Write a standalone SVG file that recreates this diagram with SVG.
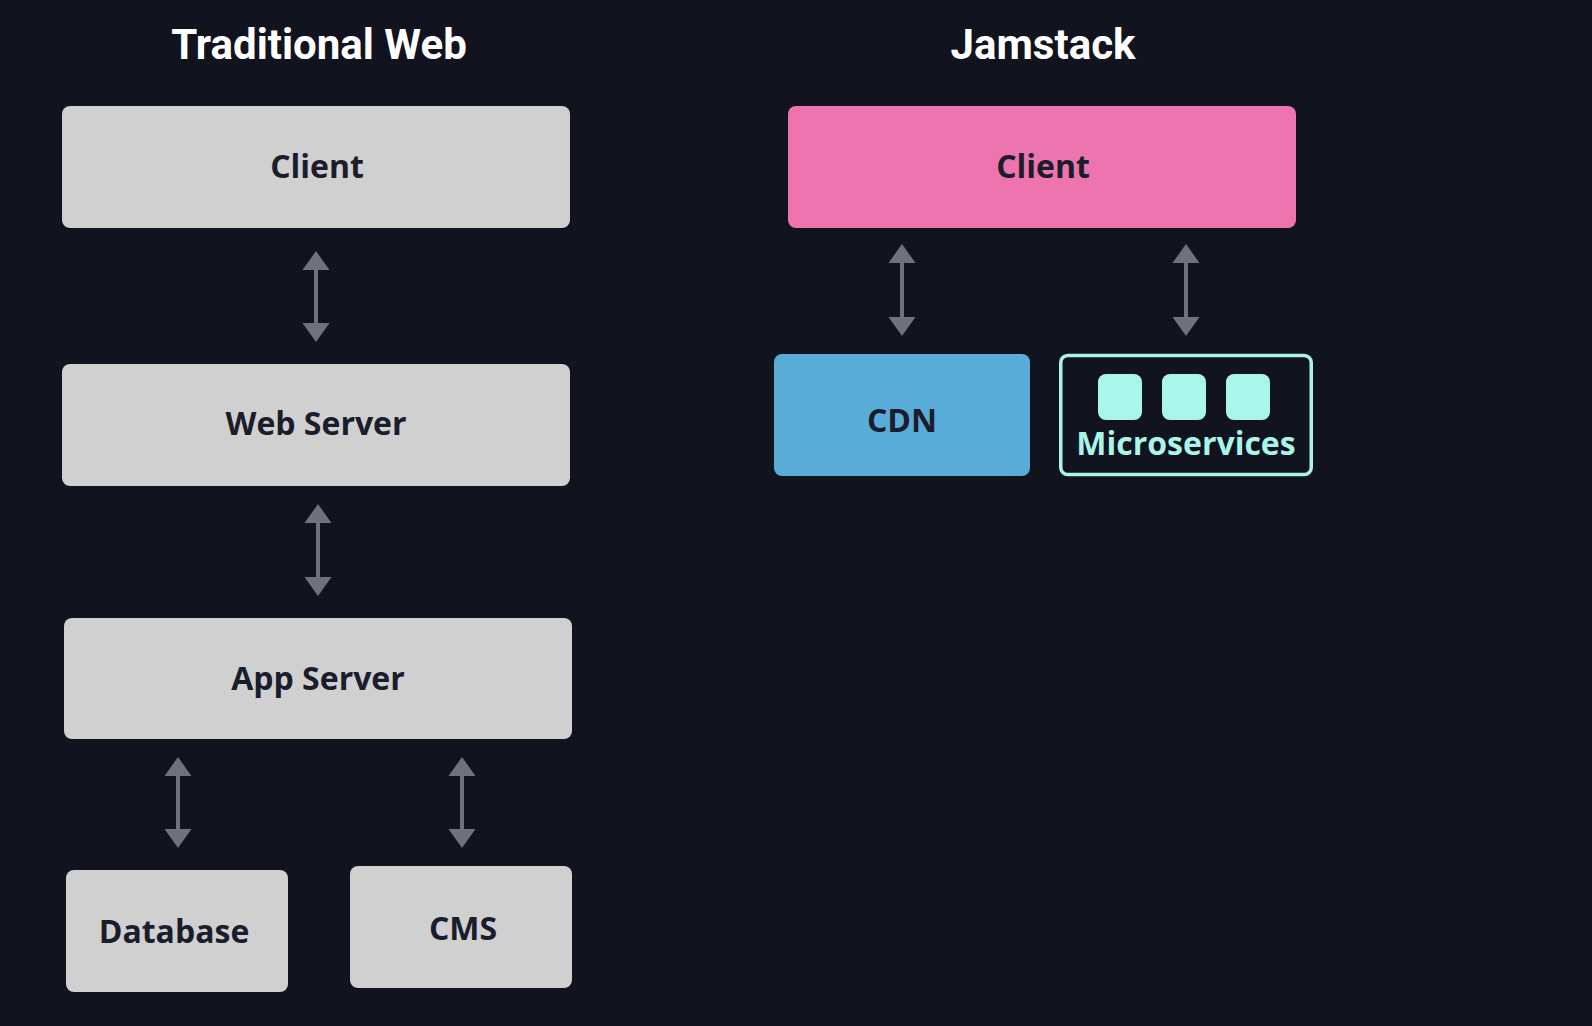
<svg xmlns="http://www.w3.org/2000/svg" width="1592" height="1026" viewBox="0 0 1592 1026">
  <defs>
    <style>
      .title { font-family: Roboto, "Liberation Sans", sans-serif; font-weight: 700; font-size: 42px; fill: #ffffff; text-anchor: middle; }
      .box { fill: #d0d0d0; }
      .label { font-family: "Open Sans", "Noto Sans", sans-serif; font-weight: 700; font-size: 32px; fill: #1a1d2b; text-anchor: middle; }
      .link { stroke: #6f717d; stroke-width: 4; fill: none; marker-start: url(#head-start); marker-end: url(#head-end); }
      .svc { fill: #aaf5ea; }
    </style>
    <marker id="head-end" viewBox="0 0 27 19" refX="13.5" refY="0" markerWidth="27" markerHeight="19" markerUnits="userSpaceOnUse" orient="0" overflow="visible">
      <path d="M0,0 L27,0 L13.5,19 Z" fill="#6f717d"/>
    </marker>
    <marker id="head-start" viewBox="0 0 27 19" refX="13.5" refY="19" markerWidth="27" markerHeight="19" markerUnits="userSpaceOnUse" orient="0" overflow="visible">
      <path d="M13.5,0 L27,19 L0,19 Z" fill="#6f717d"/>
    </marker>
  </defs>

  <rect width="1592" height="1026" fill="#11131f"/>

  <text class="title" x="319" y="59">Traditional Web</text>
  <text class="title" x="1043" y="59">Jamstack</text>

  <!-- Traditional stack -->
  <g id="trad-client">
    <rect class="box" x="62" y="106" width="508" height="122" rx="8"/>
    <text class="label" x="317" y="178">Client</text>
  </g>
  <g id="web-server">
    <rect class="box" x="62" y="364" width="508" height="122" rx="8"/>
    <text class="label" x="316" y="435">Web Server</text>
  </g>
  <g id="app-server">
    <rect class="box" x="64" y="618" width="508" height="121" rx="8"/>
    <text class="label" x="318" y="690">App Server</text>
  </g>
  <g id="database">
    <rect class="box" x="66" y="870" width="222" height="122" rx="8"/>
    <text class="label" x="174" y="943">Database</text>
  </g>
  <g id="cms">
    <rect class="box" x="350" y="866" width="222" height="122" rx="8"/>
    <text class="label" x="463" y="940">CMS</text>
  </g>

  <!-- Jamstack -->
  <g id="jam-client">
    <rect x="788" y="106" width="508" height="122" rx="8" fill="#ee74b0"/>
    <text class="label" x="1043" y="178">Client</text>
  </g>
  <g id="cdn">
    <rect x="774" y="354" width="256" height="122" rx="8" fill="#5aacd8"/>
    <text class="label" x="902" y="432">CDN</text>
  </g>
  <g id="microservices">
    <rect x="1060.75" y="355.5" width="250.5" height="119" rx="7" fill="none" stroke="#aaf5ea" stroke-width="3.5"/>
    <rect class="svc" x="1098" y="374" width="44" height="46" rx="8"/>
    <rect class="svc" x="1162" y="374" width="44" height="46" rx="8"/>
    <rect class="svc" x="1226" y="374" width="44" height="46" rx="8"/>
    <text class="label" x="1186" y="455" style="fill:#aaf5ea">Microservices</text>
  </g>

  <!-- Connectors -->
  <g id="connectors">
    <line class="link" x1="316" y1="270" x2="316" y2="323"/>
    <line class="link" x1="318" y1="523" x2="318" y2="577"/>
    <line class="link" x1="178" y1="776" x2="178" y2="829"/>
    <line class="link" x1="462" y1="776" x2="462" y2="829"/>
    <line class="link" x1="902" y1="263" x2="902" y2="317"/>
    <line class="link" x1="1186" y1="263" x2="1186" y2="317"/>
  </g>
</svg>
